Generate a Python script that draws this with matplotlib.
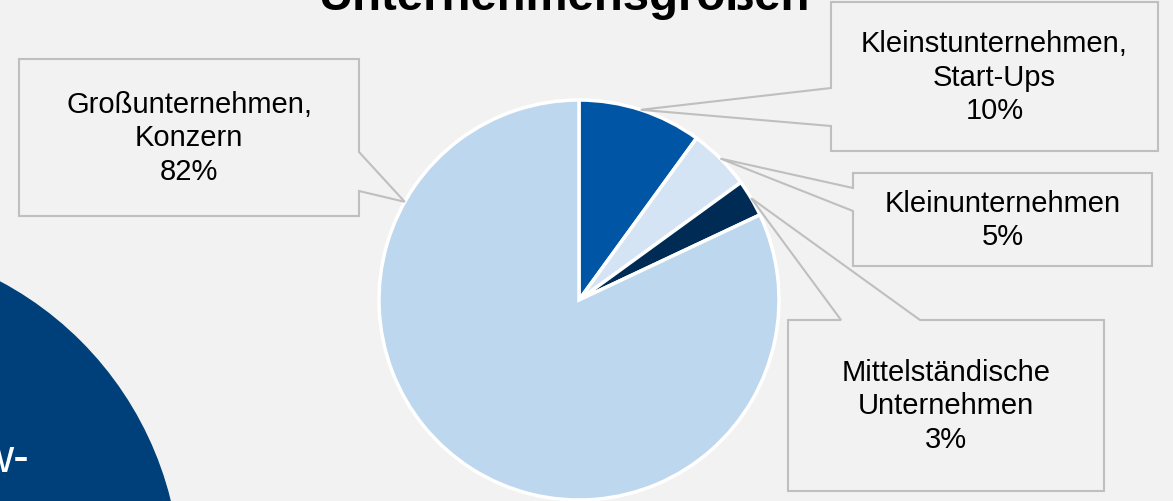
import matplotlib.pyplot as plt
from matplotlib.patches import Polygon, Circle
import numpy as np

plt.rcParams['font.family'] = ['Liberation Sans', 'DejaVu Sans']

# data
labels = ["Kleinstunternehmen,\nStart-Ups", "Kleinunternehmen",
          "Mittelständische\nUnternehmen", "Großunternehmen,\nKonzern"]
shares = [10, 5, 3, 82]
colors = ["#0055a4", "#d5e4f5", "#002b55", "#bdd7ee"]
title = "Unternehmensgrößen"

W, H = 1173, 502
BG = "#f2f2f2"

# callout layout in pixel coords (y down): box, side with the tail, where the tail starts
callouts = [
    dict(box=(831, 3, 1158, 152), side="left", base=(89, 127)),
    dict(box=(853, 174, 1152, 267), side="left", base=(189, 212)),
    dict(box=(788, 321, 1104, 492), side="top", base=(841, 920)),
    dict(box=(19, 60, 359, 217), side="right", base=(153, 192), tip_angle=150.6),
]

def py(y):
    return H - y

def callout_poly(box, side, base, tip):
    x0, y0, x1, y1 = box
    a, b = base
    if side == "left":
        pts = [(x0, y0), (x1, y0), (x1, y1), (x0, y1), (x0, b), None, (x0, a)]
    elif side == "right":
        pts = [(x0, y0), (x1, y0), (x1, a), None, (x1, b), (x1, y1), (x0, y1)]
    else:
        pts = [(x0, y0), (a, y0), None, (b, y0), (x1, y0), (x1, y1), (x0, y1)]
    return [tip if p is None else (p[0], py(p[1])) for p in pts]


fig = plt.figure(figsize=(W / 100, H / 100), dpi=100, facecolor=BG)
ax = fig.add_axes([0, 0, 1, 1])
ax.set_facecolor(BG)

# dark circle in the lower left corner
ax.add_patch(Circle((-160, py(583)), 340, color="#00407a", zorder=1))
ax.text(-21, py(472), "w-", color="white", fontsize=34, ha="left", va="baseline", zorder=2)

cx, cy, R = 579, py(301), 200
wedges, _ = ax.pie(shares, colors=colors, startangle=90, counterclock=False,
                   center=(cx, cy), radius=R,
                   wedgeprops=dict(edgecolor="white", linewidth=2.5))

for w, lab, val, c in zip(wedges, labels, shares, callouts):
    ang = c.get("tip_angle", (w.theta1 + w.theta2) / 2)
    tip = (cx + R * np.cos(np.radians(ang)), cy + R * np.sin(np.radians(ang)))
    poly = Polygon(callout_poly(c["box"], c["side"], c["base"], tip), closed=True,
                   facecolor=BG, edgecolor="#bfbfbf", linewidth=1.5, zorder=3)
    ax.add_patch(poly)
    x0, y0, x1, y1 = c["box"]
    ax.text((x0 + x1) / 2, py((y0 + y1) / 2), f"{lab}\n{val}%", ha="center", va="center",
            fontsize=21, linespacing=1.26, color="black", zorder=4)

ax.text(564, py(10), title, ha="center", va="baseline", fontsize=34,
        fontweight="bold", color="black")

ax.set_xlim(0, W)
ax.set_ylim(0, H)
ax.set_aspect("equal")
ax.axis("off")

fig.savefig("out.png", dpi=100, facecolor=BG)
